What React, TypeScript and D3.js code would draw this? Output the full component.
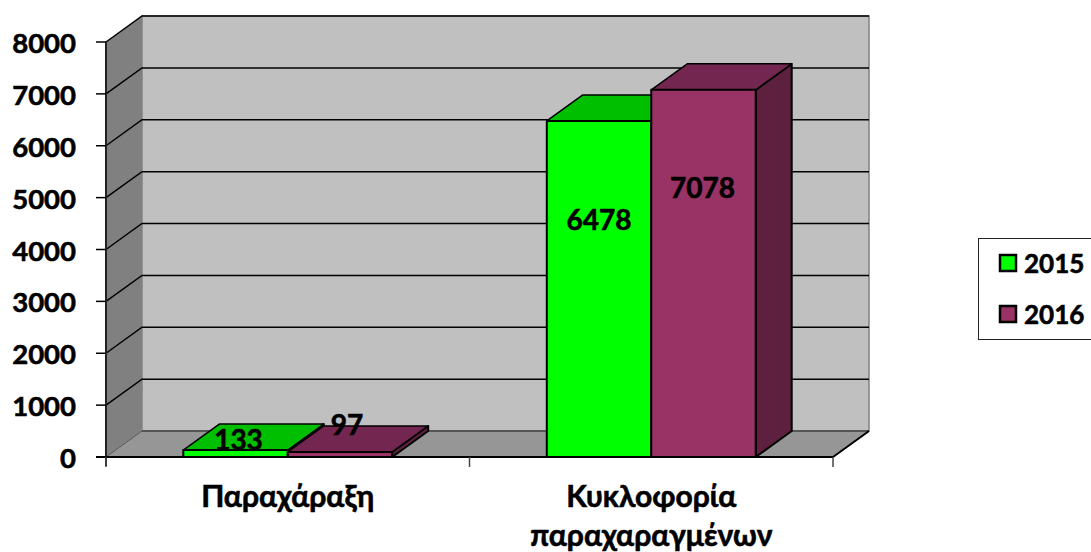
import React from "react";
import * as d3 from "d3";

const categories = ["Παραχάραξη", "Κυκλοφορία παραχαραγμένων"];
const categoryLines = [["Παραχάραξη"], ["Κυκλοφορία", "παραχαραγμένων"]];
const seriesNames = ["2015", "2016"];
const values2015 = [133, 6478];
const values2016 = [97, 7078];
const yTicks = [0, 1000, 2000, 3000, 4000, 5000, 6000, 7000, 8000];

const frontColors = ["#00FF00", "#993366"];
const topColors = ["#00BF00", "#732650"];
const sideColors = ["#008000", "#5E203F"];
const FONT = "Lato, Carlito, 'Open Sans', sans-serif";

const W = 1091, H = 552;
const dx = 36, dy = -26;
const y = d3.scaleLinear().domain([0, 8000]).range([457, 42]);
const x0 = d3.scaleBand<string>().domain(categories).range([106, 833]);
const x1 = d3.scaleBand<string>().domain(seriesNames).range([0, x0.bandwidth()]).paddingInner(0).paddingOuter(0.74);

const poly = (p: [number, number][]) => p.map((q) => q.join(",")).join(" ");
const series = [values2015, values2016];
const xL = x0.range()[0], xR = x0.range()[1];
const y0 = y(0), yMax = y(8000);
const heavy = { stroke: "#000", strokeWidth: 0.6 };

export default function App() {
  return (
    <svg width={W} height={H} style={{ position: "fixed", left: 0, top: 0, display: "block" }} fontFamily={FONT}>
      <rect width={W} height={H} fill="#fff" />
      {/* back wall */}
      <rect x={xL + dx} y={yMax + dy} width={xR - xL} height={y0 - yMax} fill="#C0C0C0" stroke="#808080" strokeWidth={1.5} />
      {/* side wall */}
      <polygon points={poly([[xL, y0], [xL + dx, y0 + dy], [xL + dx, yMax + dy], [xL, yMax]])} fill="#808080" />
      {/* floor */}
      <polygon points={poly([[xL, y0], [xL + dx, y0 + dy], [xR + dx, y0 + dy], [xR, y0]])} fill="#969696" stroke="#555" strokeWidth={1} />
      <line x1={xL + dx} x2={xR + dx} y1={y0 + dy} y2={y0 + dy} stroke="#555" strokeWidth={2} />
      <line x1={xR} y1={y0} x2={xR + dx} y2={y0 + dy} stroke="#000" strokeWidth={2} />
      {/* gridlines */}
      {yTicks.slice(1).map((t) => (
        <polyline key={t} points={poly([[xL, y(t)], [xL + dx, y(t) + dy], [xR + dx, y(t) + dy]])} fill="none" stroke="#000" strokeWidth={1.5} />
      ))}
      {/* axes */}
      <line x1={xL} x2={xL} y1={yMax} y2={y0 + 9} stroke="#222" strokeWidth={2} />
      <line x1={xL - 10} x2={xR} y1={y0} y2={y0} stroke="#000" strokeWidth={2} />
      {yTicks.map((t) => (
        <g key={t}>
          <line x1={xL - 10} x2={xL} y1={y(t)} y2={y(t)} stroke="#000" strokeWidth={1.5} />
          <text x={76} y={y(t) + 11} textAnchor="end" fontSize={27.5} fontWeight={700} fill="#000" {...heavy}>{t}</text>
        </g>
      ))}
      {[...categories.map((c) => x0(c)! + x0.bandwidth()), xL].map((v, i) => (
        <line key={i} x1={v} x2={v} y1={y0} y2={y0 + 10} stroke="#444" strokeWidth={1.5} />
      ))}
      {/* bars */}
      {categories.map((c, ci) =>
        seriesNames.map((s, si) => {
          const left = x0(c)! + x1(s)!;
          const right = left + x1.bandwidth();
          const top = y(series[si][ci]);
          return (
            <g key={s + c} stroke="#000" strokeWidth={2} strokeLinejoin="round">
              <polygon points={poly([[right, top], [right + dx, top + dy], [right + dx, y0 + dy], [right, y0]])} fill={sideColors[si]} />
              <polygon points={poly([[left, top], [left + dx, top + dy], [right + dx, top + dy], [right, top]])} fill={topColors[si]} strokeWidth={1.5} />
              <rect x={left} y={top} width={right - left} height={y0 - top} fill={frontColors[si]} />
            </g>
          );
        })
      )}
      {/* data labels */}
      {categories.map((c, ci) =>
        seriesNames.map((s, si) => {
          const v = series[si][ci];
          const cx = x0(c)! + x1(s)! + x1.bandwidth() / 2 + (ci === 0 ? (si === 0 ? 3 : 7) : (si === 0 ? 0 : -1));
          const ty = ci === 0 ? y(v) - (si === 0 ? 0 : 17) : y(v) + (si === 0 ? 109 : 108);
          return (
            <text key={s + c} x={cx} y={ty} textAnchor="middle" fontSize={28} fontWeight={700} fill="#000" {...heavy}>{v}</text>
          );
        })
      )}
      {/* category labels */}
      {categories.map((c, ci) =>
        categoryLines[ci].map((l, li) => (
          <text key={l} x={x0(c)! + x0.bandwidth() / 2} y={507 + li * 39} textAnchor="middle" fontSize={30} fontWeight={700} fill="#000" {...heavy}>{l}</text>
        ))
      )}
      {/* legend */}
      <rect x={978.5} y={238.5} width={130} height={101} fill="#fff" stroke="#222" strokeWidth={1} />
      {seriesNames.map((s, i) => {
        const ly = 263 + i * 51;
        return (
          <g key={s}>
            <rect x={1000} y={ly - 8} width={16} height={16} fill={frontColors[i]} stroke="#000" strokeWidth={2.5} />
            <text x={1024} y={ly + 9.5} fontSize={26} fontWeight={700} fill="#000" {...heavy}>{s}</text>
          </g>
        );
      })}
    </svg>
  );
}
